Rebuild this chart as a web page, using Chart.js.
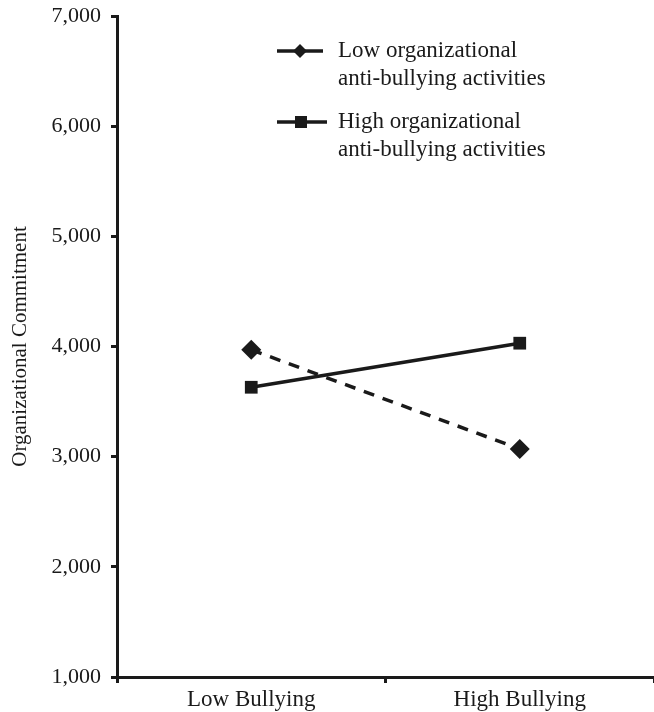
<!DOCTYPE html>
<html>
<head>
<meta charset="utf-8">
<script src="https://cdn.jsdelivr.net/npm/chart.js@4/dist/chart.umd.min.js"></script>
<style>
  html, body { margin: 0; padding: 0; background: #fff; }
  #wrap { width: 654px; height: 712px; }
</style>
</head>
<body>
<div id="wrap"><canvas id="chart"></canvas></div>
<script>
const categories = ['Low Bullying', 'High Bullying'];
const lowActivities = [3970, 3070];
const highActivities = [3630, 4030];
const seriesNames = [
  ['Low organizational', 'anti-bullying activities'],
  ['High organizational', 'anti-bullying activities']
];
const yTicks = [1000, 2000, 3000, 4000, 5000, 6000, 7000];

const FONT = '"Liberation Serif", "Times New Roman", serif';
const INK = '#1a1a1a';

// legend drawn by hand: line + marker + two-line label
const legendPlugin = {
  id: 'sideLegend',
  afterDraw(chart) {
    const ctx = chart.ctx;
    const rows = [51, 122];
    chart.data.datasets.forEach((ds, i) => {
      const y = rows[i];
      ctx.save();
      ctx.strokeStyle = INK;
      ctx.lineWidth = 3.5;
      ctx.setLineDash([]);
      ctx.beginPath();
      ctx.moveTo(277, y);
      ctx.lineTo(i === 0 ? 323 : 327, y);
      ctx.stroke();
      ctx.fillStyle = INK;
      if (ds.pointStyle === 'rectRot') {
        ctx.beginPath();
        ctx.moveTo(300, y - 7);
        ctx.lineTo(307, y);
        ctx.lineTo(300, y + 7);
        ctx.lineTo(293, y);
        ctx.closePath();
        ctx.fill();
      } else {
        ctx.fillRect(295, y - 6, 12, 12);
      }
      ctx.font = '23px ' + FONT;
      ctx.textBaseline = 'middle';
      ctx.fillText(seriesNames[i][0], 338, y);
      ctx.fillText(seriesNames[i][1], 338, y + 28);
      ctx.restore();
    });
  }
};

new Chart(document.getElementById('chart'), {
  type: 'line',
  data: {
    labels: categories,
    datasets: [
      {
        label: seriesNames[0].join(' '),
        data: lowActivities,
        borderColor: INK,
        backgroundColor: INK,
        borderWidth: 3.5,
        borderDash: [11, 9],
        pointStyle: 'rectRot',
        pointRadius: 10,
        pointBorderWidth: 0,
        fill: false
      },
      {
        label: seriesNames[1].join(' '),
        data: highActivities,
        borderColor: INK,
        backgroundColor: INK,
        borderWidth: 3.5,
        pointStyle: 'rect',
        pointRadius: 9,
        pointBorderWidth: 0,
        fill: false
      }
    ]
  },
  options: {
    responsive: true,
    maintainAspectRatio: false,
    animation: false,
    layout: { autoPadding: false, padding: { top: 16, right: 0, left: 0, bottom: 0 } },
    plugins: {
      legend: { display: false },
      tooltip: { enabled: false }
    },
    scales: {
      x: {
        offset: true,
        grid: {
          offset: true,
          drawOnChartArea: false,
          drawTicks: true,
          tickLength: 6,
          color: INK,
          lineWidth: 3
        },
        border: { display: true, color: INK, width: 3 },
        ticks: {
          color: INK,
          padding: 3,
          font: { family: FONT, size: 23 }
        },
        afterFit(scale) { scale.height = 35; }
      },
      y: {
        min: 1000,
        max: 7000,
        afterBuildTicks(scale) { scale.ticks = yTicks.map(v => ({ value: v })); },
        grid: {
          drawOnChartArea: false,
          drawTicks: true,
          tickLength: 6,
          color: INK,
          lineWidth: 3
        },
        border: { display: true, color: INK, width: 3 },
        ticks: {
          color: INK,
          padding: 10,
          font: { family: FONT, size: 22 },
          callback: v => v.toLocaleString('en-US')
        },
        title: {
          display: true,
          text: 'Organizational Commitment',
          color: INK,
          padding: { top: 8, bottom: 4 },
          font: { family: FONT, size: 21 }
        },
        afterFit(scale) {
          scale.width = 117;
          scale.paddingTop = 0;
          scale.paddingBottom = 0;
        }
      }
    }
  },
  plugins: [legendPlugin]
});
</script>
</body>
</html>
